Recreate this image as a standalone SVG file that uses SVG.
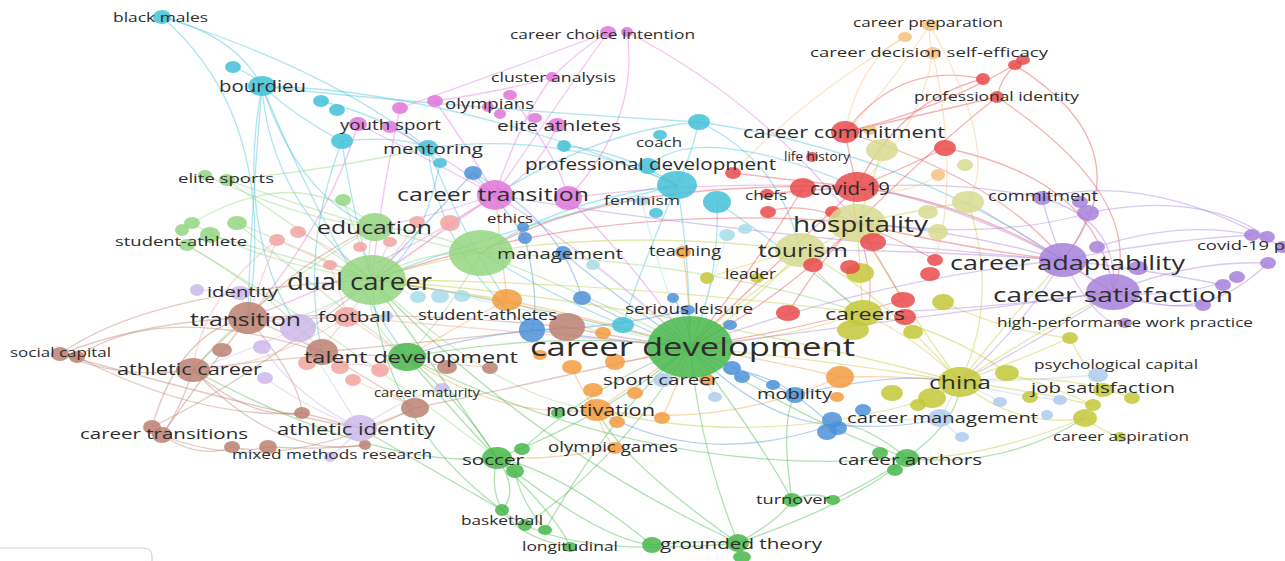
<svg xmlns="http://www.w3.org/2000/svg" width="1285" height="561" viewBox="0 0 1285 561">
<style>
#connectors path{fill:none;stroke-width:1.3;stroke-opacity:.42}
.ec{stroke:#40c0d6}.em{stroke:#df74d8}.eb{stroke:#4a90d9}.eg{stroke:#45b649}.elg{stroke:#94d57f}
.er{stroke:#e8484a}.ey{stroke:#c3c737}.ep{stroke:#a67fdb}.eo{stroke:#f39a3d}.ebr{stroke:#bb7f70}
.es{stroke:#f2a3a0}.elp{stroke:#cab7ea}.elb{stroke:#abcbed}.elc{stroke:#a6dde8}.epe{stroke:#f4c07e}
ellipse{fill-opacity:.84}
.c{fill:#40c0d6}.m{fill:#df74d8}.b{fill:#4a90d9}.g{fill:#45b649}.lg{fill:#94d57f}.r{fill:#e8484a}
.y{fill:#c3c737}.ly{fill:#d6da8e}.p{fill:#a67fdb}.o{fill:#f39a3d}.br{fill:#bb7f70}.s{fill:#f2a3a0}
.lp{fill:#cab7ea}.lb{fill:#abcbed}.lc{fill:#a6dde8}.pe{fill:#f4c07e}
text{font-family:"Open Sans","DejaVu Sans",sans-serif;fill:#2d2d2d;text-anchor:middle}
</style>
<rect width="1285" height="561" fill="#ffffff"/>
<path d="M0,548 H142 Q152,548 152,556 V561" fill="none" stroke="#d4d4d4" stroke-width="1.2"/>
<g id="connectors">
<path class="ec" d="M162,17 Q235,35 262,86"/>
<path class="ec" d="M162,17 Q330,70 428,148"/>
<path class="ec" d="M262,86 Q270,200 372,280"/>
<path class="ec" d="M262,86 Q300,200 375,227"/>
<path class="ec" d="M262,86 Q250,230 248,318"/>
<path class="ec" d="M262,86 Q330,250 407,357"/>
<path class="ec" d="M262,86 Q450,90 677,185"/>
<path class="ec" d="M262,86 Q420,105 699,122"/>
<path class="ec" d="M262,86 Q300,120 342,141"/>
<path class="ec" d="M262,86 Q235,230 298,328"/>
<path class="ec" d="M342,141 Q350,200 372,280"/>
<path class="ec" d="M342,141 Q400,135 428,148"/>
<path class="ec" d="M428,148 Q560,130 677,185"/>
<path class="ec" d="M428,148 Q440,260 532,330"/>
<path class="ec" d="M428,148 Q470,250 507,300"/>
<path class="ec" d="M677,185 Q640,270 623,325"/>
<path class="ec" d="M677,185 Q690,260 690,347"/>
<path class="ec" d="M717,202 Q720,280 690,347"/>
<path class="ec" d="M699,122 Q690,160 677,185"/>
<path class="ec" d="M699,122 Q780,160 800,250"/>
<path class="ec" d="M564,146 Q620,150 677,185"/>
<path class="ec" d="M699,122 Q600,130 495,195"/>
<path class="ec" d="M623,325 Q560,300 481,253"/>
<path class="ec" d="M677,185 Q560,200 481,253"/>
<path class="ec" d="M321,101 Q400,120 440,163"/>
<path class="ec" d="M233,67 Q255,75 262,86"/>
<path class="ec" d="M717,202 Q800,260 863,313"/>
<path class="ec" d="M677,185 Q500,230 372,280"/>
<path class="ec" d="M440,163 Q420,260 372,280"/>
<path class="ec" d="M699,122 Q900,150 1063,260"/>
<path class="ec" d="M648,166 Q700,120 857,187"/>
<path class="ec" d="M342,141 Q300,250 322,352"/>
<path class="ec" d="M162,17 Q280,120 248,318"/>
<path class="em" d="M608,32 Q560,100 495,195"/>
<path class="em" d="M627,32 Q640,120 568,198"/>
<path class="em" d="M627,32 Q760,100 857,223"/>
<path class="em" d="M608,32 Q580,50 552,77"/>
<path class="em" d="M552,77 Q520,120 495,195"/>
<path class="em" d="M435,101 Q470,150 495,195"/>
<path class="em" d="M435,101 Q510,90 552,77"/>
<path class="em" d="M358,124 Q430,160 495,195"/>
<path class="em" d="M390,127 Q450,160 495,195"/>
<path class="em" d="M495,195 Q430,240 372,280"/>
<path class="em" d="M495,195 Q600,260 690,347"/>
<path class="em" d="M568,198 Q640,270 690,347"/>
<path class="em" d="M495,195 Q400,260 248,318"/>
<path class="em" d="M557,125 Q540,170 495,195"/>
<path class="em" d="M510,95 Q560,160 568,198"/>
<path class="em" d="M495,195 Q420,220 375,227"/>
<path class="em" d="M568,198 Q700,180 857,187"/>
<path class="em" d="M400,108 Q380,200 372,280"/>
<path class="em" d="M400,108 Q480,80 608,32"/>
<path class="em" d="M358,124 Q330,220 248,318"/>
<path class="eb" d="M473,173 Q500,200 525,238"/>
<path class="eb" d="M473,173 Q420,230 372,280"/>
<path class="eb" d="M525,238 Q540,300 532,330"/>
<path class="eb" d="M563,253 Q620,300 690,347"/>
<path class="eb" d="M582,298 Q640,330 690,347"/>
<path class="eb" d="M532,330 Q610,340 690,347"/>
<path class="eb" d="M690,347 Q740,370 795,395"/>
<path class="eb" d="M795,395 Q815,410 832,425"/>
<path class="eb" d="M732,368 Q780,380 795,395"/>
<path class="eb" d="M690,347 Q760,420 832,425"/>
<path class="eb" d="M832,425 Q900,430 940,418"/>
<path class="eb" d="M532,330 Q450,340 407,357"/>
<path class="eb" d="M673,298 Q690,320 690,347"/>
<path class="eb" d="M730,325 Q710,335 690,347"/>
<path class="eb" d="M473,173 Q560,220 582,298"/>
<path class="eb" d="M795,395 Q900,370 960,382"/>
<path class="eb" d="M832,425 Q700,470 597,410"/>
<path class="eb" d="M688,310 Q600,330 532,330"/>
<path class="eg" d="M690,347 Q600,420 497,458"/>
<path class="eg" d="M690,347 Q620,460 525,525"/>
<path class="eg" d="M690,347 Q700,450 738,543"/>
<path class="eg" d="M690,347 Q760,440 792,500"/>
<path class="eg" d="M690,347 Q800,420 907,458"/>
<path class="eg" d="M690,347 Q560,330 407,357"/>
<path class="eg" d="M690,347 Q520,300 372,280"/>
<path class="eg" d="M497,458 Q520,490 502,510"/>
<path class="eg" d="M497,458 Q560,520 570,547"/>
<path class="eg" d="M497,458 Q600,540 652,545"/>
<path class="eg" d="M497,458 Q460,420 407,357"/>
<path class="eg" d="M652,545 Q700,540 738,543"/>
<path class="eg" d="M738,543 Q780,520 792,500"/>
<path class="eg" d="M792,500 Q815,490 833,500"/>
<path class="eg" d="M738,543 Q860,500 907,458"/>
<path class="eg" d="M502,510 Q450,480 360,428"/>
<path class="eg" d="M545,530 Q620,400 690,347"/>
<path class="eg" d="M407,357 Q460,400 497,458"/>
<path class="eg" d="M522,449 Q600,380 690,347"/>
<path class="eg" d="M652,545 Q560,470 497,458"/>
<path class="eg" d="M792,500 Q780,420 795,395"/>
<path class="eg" d="M907,458 Q860,420 832,425"/>
<path class="eg" d="M907,458 Q650,480 407,357"/>
<path class="eg" d="M738,543 Q520,440 372,280"/>
<path class="eg" d="M497,458 Q430,360 372,280"/>
<path class="eg" d="M502,510 Q380,420 372,280"/>
<path class="eg" d="M570,547 Q480,530 497,458"/>
<path class="eg" d="M833,500 Q960,440 960,382"/>
<path class="eg" d="M738,543 Q620,460 597,410"/>
<path class="eg" d="M515,471 Q520,500 545,530"/>
<path class="eg" d="M907,458 Q1000,470 1085,418"/>
<path class="eg" d="M497,458 Q380,470 193,370"/>
<path class="eg" d="M738,543 Q560,560 502,510"/>
<path class="elg" d="M372,280 Q420,250 481,253"/>
<path class="elg" d="M372,280 Q365,250 375,227"/>
<path class="elg" d="M375,227 Q430,230 481,253"/>
<path class="elg" d="M372,280 Q300,230 227,180"/>
<path class="elg" d="M372,280 Q280,240 237,223"/>
<path class="elg" d="M372,280 Q250,260 192,223"/>
<path class="elg" d="M205,175 Q300,220 375,227"/>
<path class="elg" d="M210,235 Q300,260 372,280"/>
<path class="elg" d="M481,253 Q600,300 690,347"/>
<path class="elg" d="M343,200 Q360,240 372,280"/>
<path class="elg" d="M372,280 Q300,330 248,318"/>
<path class="elg" d="M372,280 Q360,320 407,357"/>
<path class="elg" d="M481,253 Q450,310 407,357"/>
<path class="elg" d="M375,227 Q250,300 193,370"/>
<path class="elg" d="M227,180 Q400,240 481,253"/>
<path class="elg" d="M187,245 Q280,300 322,352"/>
<path class="elg" d="M481,253 Q700,260 863,313"/>
<path class="elg" d="M372,280 Q500,400 597,410"/>
<path class="elg" d="M192,223 Q300,160 375,227"/>
<path class="elg" d="M227,180 Q330,170 428,148"/>
<path class="elg" d="M187,245 Q330,330 497,458"/>
<path class="elg" d="M237,223 Q330,300 407,357"/>
<path class="er" d="M857,187 Q850,205 857,223"/>
<path class="er" d="M845,132 Q850,160 857,187"/>
<path class="er" d="M845,132 Q900,120 997,97"/>
<path class="er" d="M997,97 Q1000,80 1015,65"/>
<path class="er" d="M983,79 Q900,100 857,187"/>
<path class="er" d="M997,97 Q930,150 857,223"/>
<path class="er" d="M1023,60 Q940,110 845,132"/>
<path class="er" d="M945,148 Q900,170 857,187"/>
<path class="er" d="M857,187 Q780,260 690,347"/>
<path class="er" d="M857,223 Q780,300 690,347"/>
<path class="er" d="M803,188 Q760,260 690,347"/>
<path class="er" d="M857,187 Q960,200 1063,260"/>
<path class="er" d="M857,223 Q970,250 1063,260"/>
<path class="er" d="M997,97 Q1150,200 1113,292"/>
<path class="er" d="M983,79 Q900,60 845,132"/>
<path class="er" d="M767,194 Q810,190 857,187"/>
<path class="er" d="M768,212 Q800,200 857,223"/>
<path class="er" d="M733,173 Q790,180 857,187"/>
<path class="er" d="M935,260 Q900,240 857,223"/>
<path class="er" d="M903,300 Q880,260 857,223"/>
<path class="er" d="M788,313 Q820,260 857,223"/>
<path class="er" d="M857,187 Q600,180 481,253"/>
<path class="er" d="M945,148 Q1100,180 1113,292"/>
<path class="er" d="M845,132 Q1000,180 1063,260"/>
<path class="er" d="M857,223 Q880,300 863,313"/>
<path class="er" d="M857,223 Q600,200 372,280"/>
<path class="er" d="M1015,65 Q1150,150 1063,260"/>
<path class="er" d="M903,300 Q800,330 690,347"/>
<path class="ey" d="M960,382 Q920,340 863,313"/>
<path class="ey" d="M960,382 Q1030,390 1093,405"/>
<path class="ey" d="M960,382 Q830,360 690,347"/>
<path class="ey" d="M960,382 Q900,300 857,223"/>
<path class="ey" d="M960,382 Q880,290 800,250"/>
<path class="ey" d="M863,313 Q780,340 690,347"/>
<path class="ey" d="M863,313 Q860,270 857,223"/>
<path class="ey" d="M863,313 Q820,280 800,250"/>
<path class="ey" d="M960,382 Q1020,430 1085,418"/>
<path class="ey" d="M1085,418 Q1100,430 1120,437"/>
<path class="ey" d="M1070,338 Q1020,360 960,382"/>
<path class="ey" d="M1007,373 Q1050,385 1093,405"/>
<path class="ey" d="M800,250 Q760,300 690,347"/>
<path class="ey" d="M857,223 Q760,280 690,347"/>
<path class="ey" d="M968,202 Q920,210 857,223"/>
<path class="ey" d="M882,150 Q870,190 857,223"/>
<path class="ey" d="M707,278 Q760,260 800,250"/>
<path class="ey" d="M1132,398 Q1060,370 960,382"/>
<path class="ey" d="M960,382 Q1000,330 1063,260"/>
<path class="ey" d="M960,382 Q1040,330 1113,292"/>
<path class="ey" d="M863,313 Q950,330 1007,373"/>
<path class="ey" d="M932,398 Q760,450 597,410"/>
<path class="ey" d="M800,250 Q550,220 372,280"/>
<path class="ey" d="M863,313 Q600,280 372,280"/>
<path class="ey" d="M960,382 Q650,300 372,280"/>
<path class="ey" d="M1103,390 Q1080,360 1070,338"/>
<path class="ey" d="M968,202 Q1000,300 960,382"/>
<path class="ey" d="M1085,418 Q980,460 907,458"/>
<path class="ey" d="M943,302 Q1000,330 1070,338"/>
<path class="ep" d="M1063,260 Q1090,280 1113,292"/>
<path class="ep" d="M1063,260 Q960,230 857,223"/>
<path class="ep" d="M1063,260 Q950,200 857,187"/>
<path class="ep" d="M1063,260 Q870,280 690,347"/>
<path class="ep" d="M1113,292 Q900,320 690,347"/>
<path class="ep" d="M1063,260 Q920,250 800,250"/>
<path class="ep" d="M1113,292 Q980,310 863,313"/>
<path class="ep" d="M1042,198 Q1050,230 1063,260"/>
<path class="ep" d="M1088,213 Q1080,240 1063,260"/>
<path class="ep" d="M1063,260 Q1160,240 1252,235"/>
<path class="ep" d="M1113,292 Q1190,260 1268,263"/>
<path class="ep" d="M1113,292 Q1180,300 1237,277"/>
<path class="ep" d="M1113,292 Q1160,310 1203,305"/>
<path class="ep" d="M1042,198 Q1150,170 1282,247"/>
<path class="ep" d="M1097,247 Q1180,220 1252,235"/>
<path class="ep" d="M1113,292 Q1040,340 960,382"/>
<path class="ep" d="M1063,260 Q1020,330 960,382"/>
<path class="ep" d="M1113,292 Q1120,220 1042,198"/>
<path class="ep" d="M1063,260 Q1150,270 1223,285"/>
<path class="ep" d="M1042,198 Q960,180 857,187"/>
<path class="ep" d="M1088,213 Q1000,240 857,223"/>
<path class="ep" d="M1113,292 Q1000,220 968,202"/>
<path class="ep" d="M1063,260 Q700,230 495,195"/>
<path class="ep" d="M1267,237 Q1200,190 1088,213"/>
<path class="ep" d="M1063,260 Q1100,330 1125,323"/>
<path class="ep" d="M1113,292 Q1200,330 1268,263"/>
<path class="eo" d="M507,300 Q560,320 603,333"/>
<path class="eo" d="M507,300 Q600,320 690,347"/>
<path class="eo" d="M597,410 Q640,380 690,347"/>
<path class="eo" d="M597,410 Q588,400 593,390"/>
<path class="eo" d="M615,448 Q600,430 597,410"/>
<path class="eo" d="M572,367 Q580,390 597,410"/>
<path class="eo" d="M615,362 Q650,360 690,347"/>
<path class="eo" d="M507,300 Q440,290 372,280"/>
<path class="eo" d="M507,300 Q450,330 407,357"/>
<path class="eo" d="M683,252 Q690,300 690,347"/>
<path class="eo" d="M840,377 Q770,360 690,347"/>
<path class="eo" d="M662,418 Q680,380 690,347"/>
<path class="eo" d="M597,410 Q500,420 407,357"/>
<path class="eo" d="M507,300 Q500,240 495,195"/>
<path class="eo" d="M840,377 Q900,375 960,382"/>
<path class="eo" d="M597,410 Q720,430 840,377"/>
<path class="eo" d="M615,448 Q560,460 497,458"/>
<path class="epe" d="M938,175 Q900,200 857,187"/>
<path class="epe" d="M933,53 Q928,40 930,25"/>
<path class="epe" d="M933,53 Q920,130 857,187"/>
<path class="epe" d="M930,25 Q880,100 845,132"/>
<path class="epe" d="M905,37 Q860,60 845,132"/>
<path class="epe" d="M930,25 Q1000,150 968,202"/>
<path class="epe" d="M905,37 Q800,100 733,173"/>
<path class="epe" d="M933,53 Q960,180 935,260"/>
<path class="ebr" d="M248,318 Q220,340 193,370"/>
<path class="ebr" d="M248,318 Q280,330 322,352"/>
<path class="ebr" d="M248,318 Q150,320 60,354"/>
<path class="ebr" d="M60,354 Q150,290 372,280"/>
<path class="ebr" d="M60,354 Q120,380 193,370"/>
<path class="ebr" d="M193,370 Q180,410 162,435"/>
<path class="ebr" d="M248,318 Q200,380 162,435"/>
<path class="ebr" d="M162,435 Q200,460 232,447"/>
<path class="ebr" d="M232,447 Q250,452 268,447"/>
<path class="ebr" d="M268,447 Q320,450 365,445"/>
<path class="ebr" d="M193,370 Q250,420 302,413"/>
<path class="ebr" d="M322,352 Q370,380 415,408"/>
<path class="ebr" d="M415,408 Q390,420 360,428"/>
<path class="ebr" d="M302,413 Q330,420 360,428"/>
<path class="ebr" d="M248,318 Q300,380 302,413"/>
<path class="ebr" d="M322,352 Q450,340 567,327"/>
<path class="ebr" d="M248,318 Q400,310 567,327"/>
<path class="ebr" d="M193,370 Q330,350 407,357"/>
<path class="ebr" d="M152,427 Q250,380 372,280"/>
<path class="ebr" d="M60,354 Q300,420 360,428"/>
<path class="ebr" d="M193,370 Q280,460 365,445"/>
<path class="ebr" d="M567,327 Q630,340 690,347"/>
<path class="ebr" d="M248,318 Q300,260 375,227"/>
<path class="ebr" d="M415,408 Q550,380 690,347"/>
<path class="ebr" d="M77,357 Q200,420 302,413"/>
<path class="ebr" d="M152,427 Q180,330 248,318"/>
<path class="ebr" d="M77,357 Q160,300 322,352"/>
<path class="ebr" d="M162,435 Q270,480 415,408"/>
<path class="es" d="M347,317 Q360,300 372,280"/>
<path class="es" d="M347,317 Q300,320 248,318"/>
<path class="es" d="M277,240 Q320,260 372,280"/>
<path class="es" d="M298,232 Q340,250 372,280"/>
<path class="es" d="M450,223 Q420,250 372,280"/>
<path class="es" d="M417,222 Q400,250 372,280"/>
<path class="es" d="M347,317 Q380,340 407,357"/>
<path class="es" d="M307,363 Q330,340 347,317"/>
<path class="es" d="M340,367 Q360,360 380,370"/>
<path class="es" d="M347,317 Q500,330 690,347"/>
<path class="es" d="M450,223 Q470,210 495,195"/>
<path class="es" d="M353,380 Q400,400 415,408"/>
<path class="es" d="M277,240 Q260,280 248,318"/>
<path class="es" d="M330,265 Q340,290 347,317"/>
<path class="es" d="M390,242 Q380,260 372,280"/>
<path class="es" d="M347,317 Q260,370 193,370"/>
<path class="es" d="M380,370 Q440,360 490,368"/>
<path class="es" d="M277,240 Q200,300 193,370"/>
<path class="elp" d="M298,328 Q270,320 248,318"/>
<path class="elp" d="M298,328 Q330,380 360,428"/>
<path class="elp" d="M240,293 Q245,305 248,318"/>
<path class="elp" d="M197,290 Q220,290 240,293"/>
<path class="elp" d="M262,347 Q300,400 360,428"/>
<path class="elp" d="M265,378 Q310,410 360,428"/>
<path class="elp" d="M360,428 Q345,445 330,457"/>
<path class="elp" d="M298,328 Q340,300 372,280"/>
<path class="elp" d="M360,428 Q400,400 442,388"/>
<path class="elp" d="M298,328 Q250,350 193,370"/>
<path class="elb" d="M663,380 Q680,360 690,347"/>
<path class="elb" d="M940,418 Q890,420 832,425"/>
<path class="elb" d="M940,418 Q950,400 960,382"/>
<path class="elb" d="M1098,375 Q1040,380 960,382"/>
<path class="elb" d="M1000,402 Q980,390 960,382"/>
<path class="elb" d="M962,437 Q950,430 940,418"/>
<path class="elb" d="M715,397 Q700,370 690,347"/>
<path class="elb" d="M1060,400 Q1010,395 960,382"/>
<path class="elc" d="M418,297 Q400,290 372,280"/>
<path class="elc" d="M462,296 Q570,320 690,347"/>
<path class="elc" d="M727,235 Q710,290 690,347"/>
<path class="elc" d="M593,265 Q640,300 690,347"/>
<path class="elc" d="M642,201 Q660,280 690,347"/>
</g>
<g id="dots">
<g id="u1"><ellipse class="c" cx="233" cy="67" rx="8" ry="6"/></g>
<g id="u2"><ellipse class="c" cx="321" cy="101" rx="8" ry="6"/></g>
<g id="u3"><ellipse class="c" cx="337" cy="110" rx="8" ry="6"/></g>
<g id="u4"><ellipse class="c" cx="342" cy="141" rx="11" ry="8"/></g>
<g id="u5"><ellipse class="c" cx="440" cy="163" rx="7" ry="5"/></g>
<g id="u6"><ellipse class="c" cx="564" cy="146" rx="7" ry="6"/></g>
<g id="u7"><ellipse class="c" cx="699" cy="122" rx="11" ry="8"/></g>
<g id="u8"><ellipse class="c" cx="677" cy="185" rx="20" ry="14"/></g>
<g id="u9"><ellipse class="c" cx="717" cy="202" rx="14" ry="11"/></g>
<g id="u10"><ellipse class="c" cx="656" cy="213" rx="7" ry="5"/></g>
<g id="u11"><ellipse class="c" cx="623" cy="325" rx="11" ry="8"/></g>
<g id="u12"><ellipse class="lc" cx="727" cy="235" rx="8" ry="6"/></g>
<g id="u13"><ellipse class="lc" cx="745" cy="229" rx="7" ry="5"/></g>
<g id="u14"><ellipse class="lc" cx="593" cy="265" rx="7" ry="5"/></g>
<g id="u15"><ellipse class="lc" cx="418" cy="297" rx="8" ry="6"/></g>
<g id="u16"><ellipse class="lc" cx="440" cy="296" rx="9" ry="7"/></g>
<g id="u17"><ellipse class="lc" cx="462" cy="296" rx="8" ry="6"/></g>
<g id="u18"><ellipse class="lb" cx="387" cy="316" rx="6" ry="5"/></g>
<g id="u19"><ellipse class="m" cx="627" cy="32" rx="6" ry="5"/></g>
<g id="u20"><ellipse class="m" cx="510" cy="95" rx="7" ry="5"/></g>
<g id="u21"><ellipse class="m" cx="500" cy="114" rx="6" ry="5"/></g>
<g id="u22"><ellipse class="m" cx="488" cy="107" rx="6" ry="5"/></g>
<g id="u23"><ellipse class="m" cx="400" cy="108" rx="8" ry="6"/></g>
<g id="u24"><ellipse class="m" cx="390" cy="127" rx="8" ry="6"/></g>
<g id="u25"><ellipse class="m" cx="535" cy="118" rx="7" ry="5"/></g>
<g id="u26"><ellipse class="m" cx="568" cy="198" rx="14" ry="12"/></g>
<g id="u27"><ellipse class="b" cx="473" cy="173" rx="9" ry="7"/></g>
<g id="u28"><ellipse class="b" cx="525" cy="238" rx="7" ry="6"/></g>
<g id="u29"><ellipse class="b" cx="582" cy="298" rx="9" ry="7"/></g>
<g id="u30"><ellipse class="b" cx="673" cy="298" rx="6" ry="5"/></g>
<g id="u31"><ellipse class="b" cx="730" cy="325" rx="7" ry="5"/></g>
<g id="u32"><ellipse class="b" cx="532" cy="330" rx="13" ry="12"/></g>
<g id="u33"><ellipse class="b" cx="732" cy="368" rx="9" ry="7"/></g>
<g id="u34"><ellipse class="b" cx="742" cy="377" rx="8" ry="6"/></g>
<g id="u35"><ellipse class="b" cx="773" cy="385" rx="7" ry="5"/></g>
<g id="u36"><ellipse class="b" cx="863" cy="410" rx="8" ry="6"/></g>
<g id="u37"><ellipse class="b" cx="827" cy="432" rx="10" ry="8"/></g>
<g id="u38"><ellipse class="b" cx="838" cy="428" rx="9" ry="7"/></g>
<g id="u39"><ellipse class="b" cx="832" cy="420" rx="10" ry="8"/></g>
<g id="u40"><ellipse class="lb" cx="715" cy="397" rx="7" ry="5"/></g>
<g id="u41"><ellipse class="lb" cx="1000" cy="402" rx="7" ry="5"/></g>
<g id="u42"><ellipse class="lb" cx="1060" cy="400" rx="7" ry="5"/></g>
<g id="u43"><ellipse class="lb" cx="1047" cy="415" rx="6" ry="5"/></g>
<g id="u44"><ellipse class="lb" cx="962" cy="437" rx="7" ry="5"/></g>
<g id="u45"><ellipse class="g" cx="522" cy="449" rx="8" ry="6"/></g>
<g id="u46"><ellipse class="g" cx="515" cy="471" rx="9" ry="7"/></g>
<g id="u47"><ellipse class="g" cx="525" cy="525" rx="7" ry="6"/></g>
<g id="u48"><ellipse class="g" cx="545" cy="530" rx="7" ry="5"/></g>
<g id="u49"><ellipse class="g" cx="652" cy="545" rx="10" ry="8"/></g>
<g id="u50"><ellipse class="g" cx="742" cy="557" rx="9" ry="6"/></g>
<g id="u51"><ellipse class="g" cx="833" cy="500" rx="7" ry="5"/></g>
<g id="u52"><ellipse class="g" cx="880" cy="453" rx="8" ry="6"/></g>
<g id="u53"><ellipse class="g" cx="895" cy="470" rx="8" ry="6"/></g>
<g id="u54"><ellipse class="g" cx="558" cy="413" rx="7" ry="5"/></g>
<g id="u55"><ellipse class="lg" cx="205" cy="175" rx="7" ry="5"/></g>
<g id="u56"><ellipse class="lg" cx="192" cy="223" rx="8" ry="6"/></g>
<g id="u57"><ellipse class="lg" cx="182" cy="230" rx="7" ry="6"/></g>
<g id="u58"><ellipse class="lg" cx="187" cy="245" rx="8" ry="6"/></g>
<g id="u59"><ellipse class="lg" cx="237" cy="223" rx="10" ry="7"/></g>
<g id="u60"><ellipse class="lg" cx="343" cy="200" rx="8" ry="6"/></g>
<g id="u61"><ellipse class="lg" cx="481" cy="253" rx="32" ry="23"/></g>
<g id="u62"><ellipse class="o" cx="603" cy="333" rx="8" ry="6"/></g>
<g id="u63"><ellipse class="o" cx="540" cy="355" rx="7" ry="5"/></g>
<g id="u64"><ellipse class="o" cx="572" cy="367" rx="10" ry="7"/></g>
<g id="u65"><ellipse class="o" cx="615" cy="362" rx="10" ry="8"/></g>
<g id="u66"><ellipse class="o" cx="593" cy="390" rx="10" ry="7"/></g>
<g id="u67"><ellipse class="o" cx="635" cy="393" rx="8" ry="6"/></g>
<g id="u68"><ellipse class="o" cx="707" cy="380" rx="8" ry="6"/></g>
<g id="u69"><ellipse class="o" cx="617" cy="422" rx="8" ry="6"/></g>
<g id="u70"><ellipse class="o" cx="662" cy="418" rx="8" ry="6"/></g>
<g id="u71"><ellipse class="o" cx="840" cy="377" rx="14" ry="11"/></g>
<g id="u72"><ellipse class="o" cx="837" cy="397" rx="7" ry="5"/></g>
<g id="u73"><ellipse class="pe" cx="905" cy="37" rx="7" ry="5"/></g>
<g id="u74"><ellipse class="pe" cx="938" cy="175" rx="7" ry="6"/></g>
<g id="u75"><ellipse class="pe" cx="870" cy="130" rx="7" ry="5"/></g>
<g id="u76"><ellipse class="r" cx="983" cy="79" rx="7" ry="6"/></g>
<g id="u77"><ellipse class="r" cx="1015" cy="65" rx="7" ry="5"/></g>
<g id="u78"><ellipse class="r" cx="1023" cy="60" rx="7" ry="5"/></g>
<g id="u79"><ellipse class="r" cx="945" cy="148" rx="11" ry="8"/></g>
<g id="u80"><ellipse class="r" cx="733" cy="173" rx="8" ry="6"/></g>
<g id="u81"><ellipse class="r" cx="768" cy="212" rx="8" ry="6"/></g>
<g id="u82"><ellipse class="r" cx="803" cy="188" rx="13" ry="10"/></g>
<g id="u83"><ellipse class="ly" cx="882" cy="150" rx="16" ry="11"/></g>
<g id="u84"><ellipse class="ly" cx="965" cy="165" rx="8" ry="6"/></g>
<g id="u85"><ellipse class="ly" cx="968" cy="202" rx="16" ry="11"/></g>
<g id="u86"><ellipse class="ly" cx="928" cy="212" rx="10" ry="7"/></g>
<g id="u87"><ellipse class="ly" cx="938" cy="232" rx="10" ry="8"/></g>
<g id="u88"><ellipse class="y" cx="860" cy="273" rx="14" ry="10"/></g>
<g id="u89"><ellipse class="r" cx="850" cy="267" rx="10" ry="7"/></g>
<g id="u90"><ellipse class="r" cx="935" cy="260" rx="8" ry="6"/></g>
<g id="u91"><ellipse class="r" cx="930" cy="274" rx="10" ry="7"/></g>
<g id="u92"><ellipse class="r" cx="788" cy="313" rx="12" ry="8"/></g>
<g id="u93"><ellipse class="y" cx="853" cy="330" rx="16" ry="10"/></g>
<g id="u94"><ellipse class="y" cx="913" cy="332" rx="10" ry="7"/></g>
<g id="u95"><ellipse class="y" cx="943" cy="302" rx="11" ry="8"/></g>
<g id="u96"><ellipse class="y" cx="707" cy="278" rx="7" ry="6"/></g>
<g id="u97"><ellipse class="y" cx="1007" cy="373" rx="12" ry="8"/></g>
<g id="u98"><ellipse class="y" cx="932" cy="398" rx="14" ry="10"/></g>
<g id="u99"><ellipse class="y" cx="892" cy="393" rx="11" ry="8"/></g>
<g id="u100"><ellipse class="y" cx="918" cy="405" rx="8" ry="6"/></g>
<g id="u101"><ellipse class="y" cx="1030" cy="397" rx="8" ry="6"/></g>
<g id="u102"><ellipse class="y" cx="1093" cy="405" rx="8" ry="6"/></g>
<g id="u103"><ellipse class="y" cx="1132" cy="398" rx="8" ry="6"/></g>
<g id="u104"><ellipse class="y" cx="1085" cy="418" rx="12" ry="9"/></g>
<g id="u105"><ellipse class="y" cx="1070" cy="338" rx="8" ry="6"/></g>
<g id="u106"><ellipse class="p" cx="1080" cy="202" rx="8" ry="6"/></g>
<g id="u107"><ellipse class="p" cx="1088" cy="213" rx="11" ry="8"/></g>
<g id="u108"><ellipse class="p" cx="1097" cy="247" rx="8" ry="6"/></g>
<g id="u109"><ellipse class="p" cx="1138" cy="268" rx="10" ry="7"/></g>
<g id="u110"><ellipse class="p" cx="1267" cy="237" rx="8" ry="6"/></g>
<g id="u111"><ellipse class="p" cx="1282" cy="247" rx="7" ry="6"/></g>
<g id="u112"><ellipse class="p" cx="1268" cy="263" rx="8" ry="6"/></g>
<g id="u113"><ellipse class="p" cx="1237" cy="277" rx="8" ry="6"/></g>
<g id="u114"><ellipse class="p" cx="1223" cy="285" rx="8" ry="6"/></g>
<g id="u115"><ellipse class="p" cx="1203" cy="305" rx="8" ry="6"/></g>
<g id="u116"><ellipse class="br" cx="222" cy="350" rx="10" ry="7"/></g>
<g id="u117"><ellipse class="br" cx="77" cy="357" rx="8" ry="6"/></g>
<g id="u118"><ellipse class="br" cx="302" cy="413" rx="8" ry="6"/></g>
<g id="u119"><ellipse class="br" cx="152" cy="427" rx="9" ry="7"/></g>
<g id="u120"><ellipse class="br" cx="232" cy="447" rx="8" ry="6"/></g>
<g id="u121"><ellipse class="br" cx="268" cy="447" rx="9" ry="7"/></g>
<g id="u122"><ellipse class="br" cx="365" cy="445" rx="6" ry="5"/></g>
<g id="u123"><ellipse class="br" cx="322" cy="352" rx="16" ry="13"/></g>
<g id="u124"><ellipse class="br" cx="567" cy="327" rx="18" ry="14"/></g>
<g id="u125"><ellipse class="br" cx="447" cy="367" rx="10" ry="7" fill-opacity=".6"/></g>
<g id="u126"><ellipse class="br" cx="490" cy="368" rx="8" ry="6" fill-opacity=".6"/></g>
<g id="u127"><ellipse class="s" cx="277" cy="240" rx="8" ry="6"/></g>
<g id="u128"><ellipse class="s" cx="298" cy="232" rx="8" ry="6"/></g>
<g id="u129"><ellipse class="s" cx="360" cy="247" rx="7" ry="5"/></g>
<g id="u130"><ellipse class="s" cx="390" cy="242" rx="7" ry="5"/></g>
<g id="u131"><ellipse class="s" cx="330" cy="265" rx="7" ry="5"/></g>
<g id="u132"><ellipse class="s" cx="417" cy="222" rx="8" ry="6"/></g>
<g id="u133"><ellipse class="s" cx="450" cy="223" rx="10" ry="8"/></g>
<g id="u134"><ellipse class="s" cx="307" cy="363" rx="9" ry="7"/></g>
<g id="u135"><ellipse class="s" cx="340" cy="367" rx="9" ry="7"/></g>
<g id="u136"><ellipse class="s" cx="353" cy="380" rx="8" ry="6"/></g>
<g id="u137"><ellipse class="s" cx="380" cy="370" rx="9" ry="7"/></g>
<g id="u138"><ellipse class="lp" cx="240" cy="293" rx="10" ry="7"/></g>
<g id="u139"><ellipse class="lp" cx="298" cy="328" rx="18" ry="14"/></g>
<g id="u140"><ellipse class="lp" cx="262" cy="347" rx="9" ry="7"/></g>
<g id="u141"><ellipse class="lp" cx="265" cy="378" rx="8" ry="6"/></g>
<g id="u142"><ellipse class="lp" cx="442" cy="388" rx="7" ry="5"/></g>
<g id="u143"><ellipse class="r" cx="833" cy="212" rx="8" ry="6"/></g>
<g id="u144"><ellipse class="r" cx="903" cy="300" rx="12" ry="8"/></g>
<g id="u145"><ellipse class="r" cx="905" cy="317" rx="11" ry="8"/></g>
</g>
<g id="nodes">
<g id="n-career-development"><ellipse class="g" cx="690" cy="347" rx="43" ry="31"/><text x="692.5" y="356" font-size="26" textLength="325" lengthAdjust="spacingAndGlyphs">career development</text></g>
<g id="n-dual-career"><ellipse class="lg" cx="372" cy="280" rx="34" ry="25"/><text x="359.5" y="290" font-size="24" textLength="145" lengthAdjust="spacingAndGlyphs">dual career</text></g>
<g id="n-hospitality"><ellipse class="ly" cx="857" cy="223" rx="29" ry="19"/><ellipse class="r" cx="873" cy="242" rx="13" ry="9"/><text x="860.5" y="232" font-size="21" textLength="135" lengthAdjust="spacingAndGlyphs">hospitality</text></g>
<g id="n-career-satisfaction"><ellipse class="p" cx="1113" cy="292" rx="27" ry="18"/><text x="1113" y="302" font-size="20" textLength="240" lengthAdjust="spacingAndGlyphs">career satisfaction</text></g>
<g id="n-career-adaptability"><ellipse class="p" cx="1063" cy="260" rx="24" ry="17"/><text x="1067.5" y="270" font-size="20" textLength="235" lengthAdjust="spacingAndGlyphs">career adaptability</text></g>
<g id="n-tourism"><ellipse class="ly" cx="800" cy="250" rx="25" ry="17"/><ellipse class="r" cx="813" cy="265" rx="10" ry="7"/><text x="803" y="257" font-size="18" textLength="90" lengthAdjust="spacingAndGlyphs">tourism</text></g>
<g id="n-covid-19"><ellipse class="r" cx="857" cy="187" rx="22" ry="15"/><text x="850" y="195" font-size="19" textLength="80" lengthAdjust="spacingAndGlyphs">covid-19</text></g>
<g id="n-china"><ellipse class="y" cx="960" cy="382" rx="22" ry="15"/><text x="960" y="389" font-size="19" textLength="62" lengthAdjust="spacingAndGlyphs">china</text></g>
<g id="n-transition"><ellipse class="br" cx="248" cy="318" rx="20" ry="16"/><text x="245.5" y="326" font-size="19" textLength="111" lengthAdjust="spacingAndGlyphs">transition</text></g>
<g id="n-career-transition"><ellipse class="m" cx="495" cy="195" rx="18" ry="15"/><text x="493" y="201" font-size="19" textLength="192" lengthAdjust="spacingAndGlyphs">career transition</text></g>
<g id="n-education"><ellipse class="lg" cx="375" cy="227" rx="18" ry="14"/><text x="374.5" y="234" font-size="19" textLength="115" lengthAdjust="spacingAndGlyphs">education</text></g>
<g id="n-careers"><ellipse class="y" cx="863" cy="313" rx="19" ry="13"/><text x="865" y="320" font-size="17" textLength="80" lengthAdjust="spacingAndGlyphs">careers</text></g>
<g id="n-talent-development"><ellipse class="g" cx="407" cy="357" rx="19" ry="14"/><text x="411" y="363" font-size="17" textLength="214" lengthAdjust="spacingAndGlyphs">talent development</text></g>
<g id="n-athletic-career"><ellipse class="br" cx="193" cy="370" rx="17" ry="12"/><text x="189.5" y="375" font-size="17" textLength="145" lengthAdjust="spacingAndGlyphs">athletic career</text></g>
<g id="n-athletic-identity"><ellipse class="lp" cx="360" cy="428" rx="17" ry="13"/><text x="356" y="435" font-size="16" textLength="158" lengthAdjust="spacingAndGlyphs">athletic identity</text></g>
<g id="n-student-athletes"><ellipse class="o" cx="507" cy="300" rx="15" ry="11"/><text x="487.5" y="320" font-size="15" textLength="139" lengthAdjust="spacingAndGlyphs">student-athletes</text></g>
<g id="n-motivation"><ellipse class="o" cx="597" cy="410" rx="15" ry="11"/><text x="600.5" y="416" font-size="16" textLength="109" lengthAdjust="spacingAndGlyphs">motivation</text></g>
<g id="n-soccer"><ellipse class="g" cx="497" cy="458" rx="15" ry="11"/><text x="493" y="465" font-size="15" textLength="62" lengthAdjust="spacingAndGlyphs">soccer</text></g>
<g id="n-career-commitment"><ellipse class="r" cx="845" cy="132" rx="14" ry="11"/><text x="844" y="138" font-size="16" textLength="202" lengthAdjust="spacingAndGlyphs">career commitment</text></g>
<g id="n-career-maturity"><ellipse class="br" cx="415" cy="408" rx="14" ry="10"/><text x="427" y="397" font-size="13" textLength="106" lengthAdjust="spacingAndGlyphs">career maturity</text></g>
<g id="n-football"><ellipse class="s" cx="347" cy="317" rx="13" ry="10"/><text x="354.5" y="322" font-size="14" textLength="73" lengthAdjust="spacingAndGlyphs">football</text></g>
<g id="n-bourdieu"><ellipse class="c" cx="262" cy="86" rx="14" ry="10"/><text x="262.5" y="92" font-size="16" textLength="87" lengthAdjust="spacingAndGlyphs">bourdieu</text></g>
<g id="n-professional-development"><ellipse class="c" cx="648" cy="166" rx="10" ry="8"/><text x="650.5" y="170" font-size="16" textLength="251" lengthAdjust="spacingAndGlyphs">professional development</text></g>
<g id="n-career-management"><ellipse class="lb" cx="940" cy="418" rx="12" ry="9"/><text x="942.5" y="423" font-size="15" textLength="191" lengthAdjust="spacingAndGlyphs">career management</text></g>
<g id="n-job-satisfaction"><ellipse class="y" cx="1103" cy="390" rx="10" ry="7"/><text x="1103" y="393" font-size="15" textLength="144" lengthAdjust="spacingAndGlyphs">job satisfaction</text></g>
<g id="n-career-anchors"><ellipse class="g" cx="907" cy="458" rx="12" ry="9"/><text x="910" y="465" font-size="15" textLength="144" lengthAdjust="spacingAndGlyphs">career anchors</text></g>
<g id="n-grounded-theory"><ellipse class="g" cx="738" cy="543" rx="11" ry="9"/><text x="741" y="549" font-size="15" textLength="162" lengthAdjust="spacingAndGlyphs">grounded theory</text></g>
<g id="n-mobility"><ellipse class="b" cx="795" cy="395" rx="10" ry="8"/><text x="794.5" y="399" font-size="15" textLength="75" lengthAdjust="spacingAndGlyphs">mobility</text></g>
<g id="n-sport-career"><ellipse class="lb" cx="663" cy="380" rx="10" ry="7"/><text x="661" y="385" font-size="14" textLength="116" lengthAdjust="spacingAndGlyphs">sport career</text></g>
<g id="n-mentoring"><ellipse class="c" cx="428" cy="148" rx="10" ry="8"/><text x="433" y="154" font-size="15" textLength="100" lengthAdjust="spacingAndGlyphs">mentoring</text></g>
<g id="n-youth-sport"><ellipse class="m" cx="358" cy="124" rx="9" ry="7"/><text x="390.5" y="130" font-size="15" textLength="101" lengthAdjust="spacingAndGlyphs">youth sport</text></g>
<g id="n-elite-athletes"><ellipse class="m" cx="557" cy="125" rx="9" ry="7"/><text x="559" y="131" font-size="15" textLength="124" lengthAdjust="spacingAndGlyphs">elite athletes</text></g>
<g id="n-management"><ellipse class="b" cx="563" cy="253" rx="8" ry="7"/><text x="560" y="259" font-size="15" textLength="126" lengthAdjust="spacingAndGlyphs">management</text></g>
<g id="n-career-transitions"><ellipse class="br" cx="162" cy="435" rx="10" ry="8"/><text x="164" y="439" font-size="15" textLength="168" lengthAdjust="spacingAndGlyphs">career transitions</text></g>
<g id="n-commitment"><ellipse class="p" cx="1042" cy="198" rx="9" ry="7"/><text x="1043" y="201" font-size="14" textLength="110" lengthAdjust="spacingAndGlyphs">commitment</text></g>
<g id="n-student-athlete"><ellipse class="lg" cx="210" cy="235" rx="10" ry="8"/><text x="181" y="246" font-size="13" textLength="132" lengthAdjust="spacingAndGlyphs">student-athlete</text></g>
<g id="n-psychological-capital"><ellipse class="lb" cx="1098" cy="375" rx="10" ry="7"/><text x="1116" y="369" font-size="13" textLength="164" lengthAdjust="spacingAndGlyphs">psychological capital</text></g>
<g id="n-olympians"><ellipse class="m" cx="435" cy="101" rx="8" ry="6"/><text x="489.5" y="109" font-size="14" textLength="89" lengthAdjust="spacingAndGlyphs">olympians</text></g>
<g id="n-teaching"><ellipse class="o" cx="683" cy="252" rx="8" ry="6"/><text x="685" y="256" font-size="14" textLength="72" lengthAdjust="spacingAndGlyphs">teaching</text></g>
<g id="n-identity"><ellipse class="lp" cx="197" cy="290" rx="7" ry="6"/><text x="242.5" y="297" font-size="14" textLength="71" lengthAdjust="spacingAndGlyphs">identity</text></g>
<g id="n-serious-leisure"><ellipse class="b" cx="688" cy="310" rx="7" ry="5"/><text x="689" y="314" font-size="14" textLength="128" lengthAdjust="spacingAndGlyphs">serious leisure</text></g>
<g id="n-olympic-games"><ellipse class="o" cx="615" cy="448" rx="8" ry="6"/><text x="613" y="452" font-size="14" textLength="130" lengthAdjust="spacingAndGlyphs">olympic games</text></g>
<g id="n-leader"><ellipse class="y" cx="757" cy="278" rx="7" ry="5"/><text x="750.5" y="279" font-size="14" textLength="51" lengthAdjust="spacingAndGlyphs">leader</text></g>
<g id="n-elite-sports"><ellipse class="lg" cx="227" cy="180" rx="8" ry="6"/><text x="226" y="183" font-size="13" textLength="96" lengthAdjust="spacingAndGlyphs">elite sports</text></g>
<g id="n-black-males"><ellipse class="c" cx="162" cy="17" rx="9" ry="7"/><text x="160.5" y="22" font-size="13" textLength="95" lengthAdjust="spacingAndGlyphs">black males</text></g>
<g id="n-career-choice-intention"><ellipse class="m" cx="608" cy="32" rx="8" ry="6"/><text x="602.5" y="39" font-size="13" textLength="185" lengthAdjust="spacingAndGlyphs">career choice intention</text></g>
<g id="n-career-preparation"><ellipse class="pe" cx="930" cy="25" rx="8" ry="6"/><text x="928" y="27" font-size="13" textLength="150" lengthAdjust="spacingAndGlyphs">career preparation</text></g>
<g id="n-career-decision-self-efficacy"><ellipse class="pe" cx="933" cy="53" rx="8" ry="6"/><text x="929" y="57" font-size="13" textLength="238" lengthAdjust="spacingAndGlyphs">career decision self-efficacy</text></g>
<g id="n-cluster-analysis"><ellipse class="m" cx="552" cy="77" rx="6" ry="5"/><text x="553.5" y="82" font-size="13" textLength="125" lengthAdjust="spacingAndGlyphs">cluster analysis</text></g>
<g id="n-professional-identity"><ellipse class="r" cx="997" cy="97" rx="7" ry="6"/><text x="996.5" y="101" font-size="13" textLength="165" lengthAdjust="spacingAndGlyphs">professional identity</text></g>
<g id="n-coach"><ellipse class="c" cx="660" cy="135" rx="7" ry="5"/><text x="659" y="147" font-size="13" textLength="46" lengthAdjust="spacingAndGlyphs">coach</text></g>
<g id="n-life-history"><ellipse class="r" cx="812" cy="157" rx="6" ry="5"/><text x="817" y="161" font-size="12" textLength="66" lengthAdjust="spacingAndGlyphs">life history</text></g>
<g id="n-feminism"><ellipse class="lc" cx="642" cy="201" rx="7" ry="5"/><text x="642" y="205" font-size="13" textLength="76" lengthAdjust="spacingAndGlyphs">feminism</text></g>
<g id="n-chefs"><ellipse class="r" cx="767" cy="194" rx="7" ry="5"/><text x="766" y="200" font-size="12" textLength="42" lengthAdjust="spacingAndGlyphs">chefs</text></g>
<g id="n-ethics"><ellipse class="b" cx="523" cy="227" rx="6" ry="5"/><text x="510" y="223" font-size="12" textLength="46" lengthAdjust="spacingAndGlyphs">ethics</text></g>
<g id="n-covid-19-p"><ellipse class="p" cx="1252" cy="235" rx="8" ry="6"/><text x="1241" y="250" font-size="13" textLength="88" lengthAdjust="spacingAndGlyphs">covid-19 p</text></g>
<g id="n-high-performance-work-practice"><ellipse class="p" cx="1125" cy="323" rx="7" ry="5"/><text x="1125" y="327" font-size="12" textLength="256" lengthAdjust="spacingAndGlyphs">high-performance work practice</text></g>
<g id="n-social-capital"><ellipse class="br" cx="60" cy="354" rx="9" ry="7"/><text x="60.5" y="357" font-size="12" textLength="101" lengthAdjust="spacingAndGlyphs">social capital</text></g>
<g id="n-career-aspiration"><ellipse class="y" cx="1120" cy="437" rx="6" ry="5"/><text x="1121" y="441" font-size="13" textLength="136" lengthAdjust="spacingAndGlyphs">career aspiration</text></g>
<g id="n-mixed-methods-research"><ellipse class="lp" cx="330" cy="457" rx="6" ry="5"/><text x="332" y="459" font-size="13" textLength="200" lengthAdjust="spacingAndGlyphs">mixed methods research</text></g>
<g id="n-turnover"><ellipse class="g" cx="792" cy="500" rx="9" ry="7"/><text x="793" y="504" font-size="13" textLength="74" lengthAdjust="spacingAndGlyphs">turnover</text></g>
<g id="n-basketball"><ellipse class="g" cx="502" cy="510" rx="7" ry="6"/><text x="502" y="525" font-size="13" textLength="82" lengthAdjust="spacingAndGlyphs">basketball</text></g>
<g id="n-longitudinal"><ellipse class="g" cx="570" cy="547" rx="7" ry="5"/><text x="570" y="551" font-size="13" textLength="96" lengthAdjust="spacingAndGlyphs">longitudinal</text></g>
</g>
</svg>
